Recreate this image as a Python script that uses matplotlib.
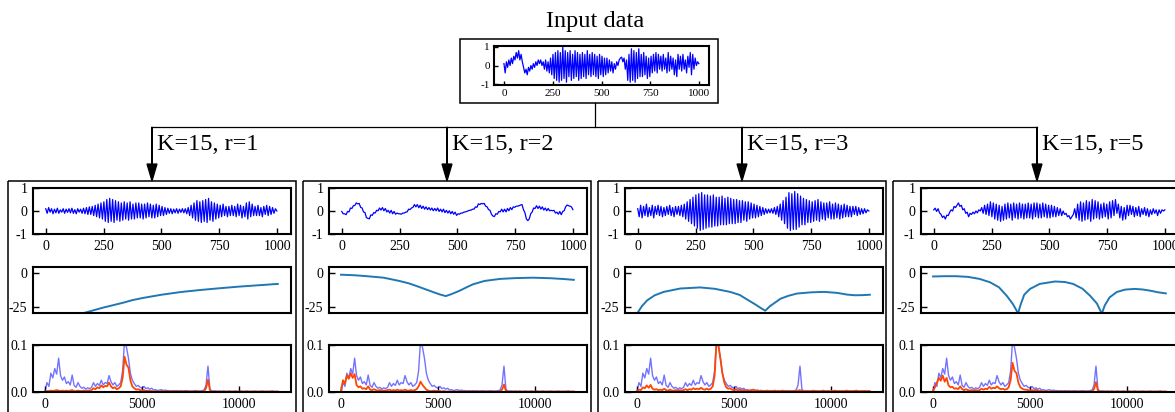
import numpy as np
import matplotlib
matplotlib.use("Agg")
import matplotlib.pyplot as plt
from matplotlib.patches import Rectangle

plt.rcParams["font.family"] = ["Liberation Serif", "DejaVu Serif"]
plt.rcParams["axes.unicode_minus"] = False

W, H = 1175, 412

# ---- time signals (values x 0.01), evenly spaced over samples 0..999 ----
input_sig = np.array([
    10, -40, 20, -10, 30, 0, 40, 10, 50, 30, 70, 40, 80, 30, 60, 20,
    -10, -40, -20, -50, -10, -30, 0, -20, 10, -10, 20, 0, 30, 10, 30, 0,
    20, -20, 30, -30, 20, -40, 40, -50, 60, -70, 70, -80, 80, -90, 70, -80,
    100, -70, 80, -90, 70, -60, 80, -80, 60, -70, 80, -60, 70, -80, 60, -70,
    70, -60, 60, -70, 80, -50, 60, -60, 70, -50, 60, -60, 50, -70, 60, -50,
    50, -60, 40, -50, 40, -40, 30, -30, 20, -40, 10, -20, 20, 0, 30, 40,
    45, 20, 40, -20, 30, -80, 60, -90, 90, -80, 80, -90, 70, -70, 90, -60,
    60, -60, 70, -50, 50, -70, 40, -60, 50, -40, 60, -30, 70, -40, 60, -20,
    50, -30, 60, -20, 40, -40, 70, -30, 50, -20, 40, -50, 30, -60, 60, -20,
    50, -30, 60, -20, 30, -40, 50, -10, 70, -50, 60, -20, 40, 0, 20, 10,
]) / 100

sig_r1 = np.array([
    10, -10, 15, -5, 10, -12, 8, -8, 12, -10, 5, -5, 10, -10, 8, -6,
    10, -8, 12, -10, 6, -12, 10, -5, 8, -10, 12, -12, 15, -15, 18, -15,
    20, -20, 25, -25, 30, -30, 35, -35, 40, -45, 50, -50, 55, -45, 50, -50,
    45, -40, 40, -45, 35, -40, 40, -35, 35, -40, 40, -35, 30, -35, 35, -30,
    35, -30, 30, -35, 30, -30, 35, -25, 30, -30, 25, -30, 30, -25, 25, -20,
    20, -20, 15, -15, 12, -10, 10, -12, 8, -8, 10, -10, 8, -6, 10, -8,
    10, -12, 15, -20, 25, -30, 35, -40, 45, -45, 40, -50, 45, -45, 50, -50,
    55, -40, 40, -45, 35, -35, 30, -30, 25, -25, 30, -20, 20, -25, 20, -20,
    25, -20, 20, -25, 30, -20, 25, -30, 20, -25, 35, -35, 40, -25, 30, -20,
    20, -20, 25, -20, 15, -25, 20, -15, 25, -20, 20, -15, 15, -10, 10, 0,
]) / 100

sig_r2 = np.array([
    -2, -12, -12, -16, -2, -4, 13, 11, 23, 24, 35, 31, 33, 16, 13, -4,
    -7, -29, -32, -34, -17, -19, -7, -9, 3, 1, 13, 4, 15, 1, 11, -4,
    3, -9, 3, -12, -2, -14, -9, -12, -12, -14, -9, -9, -5, -4, 8, 6,
    13, 16, 28, 18, 28, 14, 25, 11, 21, 8, 18, 6, 15, 4, 13, 1,
    11, 1, 13, -2, 8, -4, 8, -7, 3, -9, 1, -12, -2, -14, -5, -19,
    -12, -14, -9, -9, -5, -4, -2, 1, 3, 4, 8, 8, 18, 16, 31, 28,
    33, 31, 33, 21, 18, 6, 3, -14, -22, -24, -12, -14, -2, -4, 8, -4,
    8, -4, 11, 1, 15, 6, 18, 16, 21, 21, 23, 26, 28, 6, -7, -34,
    -42, -34, -12, -4, 13, 11, 23, 11, 21, 8, 18, 4, 13, 1, 11, 1,
    3, 1, 3, -9, -5, -14, -2, -16, -2, 1, 18, 26, 23, 21, 18, 6,
]) / 100

sig_r3 = np.array([
    10, -25, 25, -30, 20, -20, 30, -25, 15, -20, 25, -30, 20, -15, 25, -20,
    20, -25, 15, -20, 20, -15, 25, -20, 15, -25, 20, -15, 20, -20, 25, -25,
    30, -35, 40, -45, 50, -55, 60, -65, 70, -75, 75, -85, 80, -80, 70, -75,
    70, -70, 65, -70, 70, -65, 60, -65, 60, -60, 65, -60, 55, -60, 60, -55,
    55, -55, 50, -55, 50, -50, 45, -50, 45, -40, 40, -45, 40, -35, 35, -30,
    30, -30, 25, -25, 20, -20, 15, -15, 10, -10, 8, -8, 10, -10, 15, -15,
    20, -25, 30, -40, 45, -55, 60, -75, 80, -85, 75, -80, 85, -80, 75, -70,
    65, -60, 55, -60, 50, -50, 45, -50, 40, -45, 45, -40, 50, -45, 40, -35,
    35, -40, 35, -30, 40, -35, 30, -35, 35, -30, 30, -35, 25, -30, 30, -25,
    25, -25, 20, -25, 20, -15, 20, -20, 15, -15, 10, -12, 10, -8, 5, 0,
]) / 100

sig_r5 = np.array([
    5, 12, -2, 10, -8, -15, -28, -22, -35, -18, -20, -5, 5, 0, 20, 15,
    25, 35, 20, 25, 5, 10, -10, -5, -25, -10, -15, -5, -12, 0, -8, 5,
    0, 15, -10, 25, -15, 30, -20, 40, -25, 35, -35, 30, -40, 25, -45, 20,
    -40, 30, -35, 35, -30, 30, -40, 35, -30, 30, -35, 35, -30, 30, -35, 30,
    -30, 35, -30, 30, -35, 35, -25, 35, -30, 30, -30, 35, -25, 30, -30, 25,
    -30, 25, -25, 20, -25, 15, -20, 10, -20, 0, -15, -10, -25, -20, -35, -25,
    -15, 10, -30, 30, -40, 40, -45, 35, -40, 45, -35, 40, -45, 50, -35, 45,
    -30, 40, -35, 30, -30, 35, -25, 30, -35, 40, -30, 45, -20, 50, -10, 30,
    -30, 20, -40, 15, -35, 25, -20, 25, -15, 20, -25, 15, -20, 20, -25, 10,
    -15, 15, -20, 10, -25, 5, -15, 10, -10, 5, -20, 5, -10, 5, 0, 5,
]) / 100

# ---- filter responses (dB) ----
resp_r1_f = [1000, 2000, 3000, 4000, 4500, 5000, 6000, 7000, 8000, 9000,
             10000, 11000, 12000]
resp_r1_db = [-40, -29.5, -25.5, -22, -20, -18.5, -16, -14, -12.5, -11.2,
              -10, -9, -8]
resp_r2_f = [0, 700, 1340, 2200, 3000, 3500, 3920, 4400, 4780, 5100, 5400,
             5700, 6120, 6500, 6800, 7400, 8200, 9000, 9900, 10800, 11500,
             12000]
resp_r2_db = [-1.2, -1.6, -2.3, -3.4, -5.8, -7.6, -9.7, -12.2, -14.2, -15.8,
              -17, -15.5, -13, -10.3, -8.3, -5.8, -4.3, -3.7, -3.4, -3.8,
              -4.4, -5]
resp_r3_f = [0, 250, 520, 900, 1375, 2230, 3250, 4000, 4800, 5300, 5670,
             6100, 6400, 6610, 6850, 7390, 7800, 8250, 9000, 9640, 10300,
             10830, 11240, 11600, 12000]
resp_r3_db = [-30, -24.5, -20.2, -16.5, -13.9, -11.4, -10.6, -11.6, -13.9,
              -16.2, -19.5, -23.2, -26, -27.8, -24.5, -19, -16.8, -15.1,
              -14.2, -13.9, -14.6, -15.9, -16.4, -16.3, -16]
resp_r5_f = [0, 600, 1200, 1800, 2400, 2940, 3400, 3800, 4100, 4300, 4380,
             4500, 4700, 5000, 5500, 6290, 6800, 7220, 7700, 8100, 8450,
             8700, 8850, 9100, 9470, 9900, 10400, 10800, 11200, 11600, 12000]
resp_r5_db = [-2.5, -2.3, -2.3, -2.8, -4.3, -6.8, -10.5, -16.8, -22.5,
              -27.5, -30, -24, -16, -11.7, -8, -6.2, -6.6, -8, -11.5, -16.8,
              -22.5, -30, -24, -18, -14, -12.2, -11.7, -12.1, -13, -14.2, -15]

# ---- spectra (values x 0.001) at 0, 100, ..., 12000 Hz ----
spec_in = np.array([
    2, 20, 12, 40, 30, 50, 38, 72, 35, 25,
    32, 18, 22, 15, 36, 14, 10, 20, 12, 8,
    10, 6, 9, 7, 10, 20, 12, 18, 14, 25,
    15, 20, 18, 35, 22, 15, 20, 12, 15, 20,
    45, 110, 95, 72, 40, 25, 18, 12, 14, 10,
    8, 12, 7, 9, 6, 8, 4, 5, 3, 4,
    5, 3, 4, 3, 3, 2, 3, 2, 3, 2,
    3, 2, 2, 3, 2, 2, 2, 3, 2, 2,
    2, 3, 4, 15, 55, 6, 2, 2, 2, 1,
    2, 1, 2, 1, 1, 2, 1, 1, 2, 1,
    1, 2, 1, 1, 2, 1, 1, 1, 2, 1,
    1, 1, 2, 1, 1, 1, 1, 2, 1, 1, 1,
]) / 1000

spec_r1 = np.array([
    1, 2, 2, 3, 2, 3, 4, 3, 2, 3,
    2, 3, 2, 3, 4, 2, 2, 3, 2, 2,
    3, 2, 3, 3, 4, 8, 6, 10, 8, 14,
    10, 13, 12, 20, 12, 8, 10, 6, 8, 12,
    30, 75, 58, 52, 25, 12, 8, 5, 6, 4,
    3, 4, 2, 3, 2, 2, 1, 2, 1, 1,
    2, 1, 1, 2, 1, 1, 1, 2, 1, 1,
    1, 1, 2, 1, 1, 1, 1, 1, 2, 1,
    1, 1, 2, 8, 26, 4, 1, 1, 1, 1,
    1, 1, 1, 1, 1, 1, 1, 1, 1, 1,
    1, 1, 1, 1, 1, 1, 1, 1, 1, 1,
    1, 1, 1, 1, 1, 1, 1, 1, 1, 1, 1,
]) / 1000

spec_r2 = np.array([
    3, 25, 18, 35, 28, 40, 30, 38, 15, 10,
    12, 7, 8, 6, 12, 5, 4, 6, 4, 3,
    4, 3, 3, 3, 4, 5, 3, 4, 3, 5,
    3, 4, 3, 5, 3, 3, 4, 3, 4, 6,
    12, 22, 15, 10, 5, 3, 2, 2, 3, 2,
    2, 2, 1, 2, 1, 1, 1, 1, 1, 1,
    1, 1, 1, 1, 1, 1, 1, 1, 1, 1,
    1, 1, 1, 1, 1, 1, 1, 1, 1, 1,
    1, 1, 1, 5, 16, 2, 1, 1, 1, 1,
    1, 1, 1, 1, 1, 1, 1, 1, 1, 1,
    1, 1, 1, 1, 1, 1, 1, 1, 1, 1,
    1, 1, 1, 1, 1, 1, 1, 1, 1, 1, 1,
]) / 1000

spec_r3 = np.array([
    2, 5, 4, 10, 8, 14, 9, 15, 7, 5,
    6, 4, 5, 4, 7, 4, 3, 5, 3, 3,
    4, 3, 4, 3, 4, 6, 4, 6, 5, 8,
    6, 7, 6, 9, 6, 5, 7, 5, 7, 12,
    35, 110, 100, 70, 40, 20, 10, 7, 8, 5,
    4, 6, 3, 5, 3, 4, 3, 3, 3, 4,
    5, 3, 3, 2, 3, 2, 2, 3, 2, 2,
    2, 3, 2, 2, 2, 3, 2, 2, 2, 2,
    2, 2, 2, 3, 4, 2, 2, 2, 2, 2,
    2, 3, 2, 2, 2, 2, 3, 2, 2, 2,
    2, 2, 3, 2, 2, 2, 2, 2, 3, 2,
    2, 2, 2, 3, 2, 2, 2, 2, 2, 2, 2,
]) / 1000

spec_r5 = np.array([
    3, 10, 20, 30, 24, 35, 22, 30, 14, 10,
    11, 7, 8, 6, 12, 6, 4, 6, 4, 3,
    4, 3, 4, 3, 4, 7, 5, 7, 6, 11,
    7, 9, 8, 12, 8, 6, 7, 5, 6, 10,
    25, 62, 45, 40, 20, 10, 7, 5, 5, 4,
    3, 4, 3, 5, 3, 2, 2, 1, 2, 1,
    1, 1, 1, 1, 1, 1, 1, 1, 1, 1,
    1, 1, 1, 1, 1, 1, 1, 1, 1, 1,
    1, 1, 1, 6, 21, 3, 1, 1, 1, 1,
    1, 1, 1, 1, 1, 1, 1, 1, 1, 1,
    1, 1, 1, 1, 1, 1, 1, 1, 1, 1,
    1, 1, 1, 1, 1, 1, 1, 1, 1, 1, 1,
]) / 1000

branch_labels = ["K=15, r=1", "K=15, r=2", "K=15, r=3", "K=15, r=5"]
branch_sigs = [sig_r1, sig_r2, sig_r3, sig_r5]
branch_resp = [(resp_r1_f, resp_r1_db), (resp_r2_f, resp_r2_db),
               (resp_r3_f, resp_r3_db), (resp_r5_f, resp_r5_db)]
branch_spec = [spec_r1, spec_r2, spec_r3, spec_r5]

freqs = np.arange(0, 12001, 100)


def px_axes(fig, left, top, width, height):
    return fig.add_axes([left / W, 1 - (top + height) / H, width / W, height / H])


def style(ax, size=10):
    for sp in ax.spines.values():
        sp.set_linewidth(1.5)
    ax.tick_params(direction="in", length=4, width=1, labelsize=size, pad=4,
                   top=False, right=False)


fig = plt.figure(figsize=(W / 100, H / 100), dpi=100)
bg = fig.add_axes([0, 0, 1, 1])
bg.set_xlim(0, W)
bg.set_ylim(H, 0)
bg.axis("off")

# input block and tree
bg.text(595, 21, "Input data", ha="center", va="center", fontsize=17.5)
bg.add_patch(Rectangle((460, 39), 258, 64, fill=False, lw=1.1, ec="k"))
bg.plot([595, 595], [103, 127], color="k", lw=0.9)
bg.plot([152, 1037], [127, 127], color="k", lw=0.9)

ax_in = px_axes(fig, 494, 46, 215, 39)
ax_in.plot(np.linspace(0, 999, len(input_sig)), input_sig, color="blue", lw=0.9)
ax_in.set_xlim(-51, 1051)
ax_in.set_ylim(-1.05, 1.05)
ax_in.set_xticks([0, 250, 500, 750, 1000])
ax_in.set_yticks([-1, 0, 1])
style(ax_in, 8)
ax_in.tick_params(pad=3, length=3)

for i in range(4):
    ax_x = 152 + 295 * i
    bg.arrow(ax_x, 127, 0, 54, head_width=10, head_length=17,
             length_includes_head=True, fc="k", ec="k", lw=0.9)
    bg.text(ax_x + 5, 145, branch_labels[i], ha="left", va="center",
            fontsize=17.5)
    bg.add_patch(Rectangle((8 + 295 * i, 181), 288, 260, fill=False,
                           lw=1.1, ec="k"))

    left = 33 + 296 * i
    a1 = px_axes(fig, left, 188, 258, 46)
    sig = branch_sigs[i]
    a1.plot(np.linspace(0, 999, len(sig)), sig, color="blue", lw=0.9)
    a1.set_xlim(-55, 1060)
    a1.set_ylim(-1, 1)
    a1.set_xticks([0, 250, 500, 750, 1000])
    a1.set_yticks([-1, 0, 1])
    style(a1)

    a2 = px_axes(fig, left, 267, 258, 46)
    f, db = branch_resp[i]
    a2.plot(f, db, color="C0", lw=1.4)
    a2.set_xlim(-620, 12680)
    a2.set_ylim(-29.5, 4.5)
    a2.set_xticks([])
    a2.set_yticks([0, -25])
    style(a2)

    a3 = px_axes(fig, left, 345, 258, 47)
    a3.plot(freqs, spec_in, color="blue", alpha=0.55, lw=1.0)
    a3.plot(freqs, branch_spec[i], color="orangered", lw=1.3)
    a3.set_xlim(-620, 12680)
    a3.set_ylim(0, 0.1)
    a3.set_xticks([0, 5000, 10000])
    a3.set_yticks([0.0, 0.1])
    a3.set_yticklabels(["0.0", "0.1"])
    style(a3)

fig.savefig("out.png", dpi=100)
